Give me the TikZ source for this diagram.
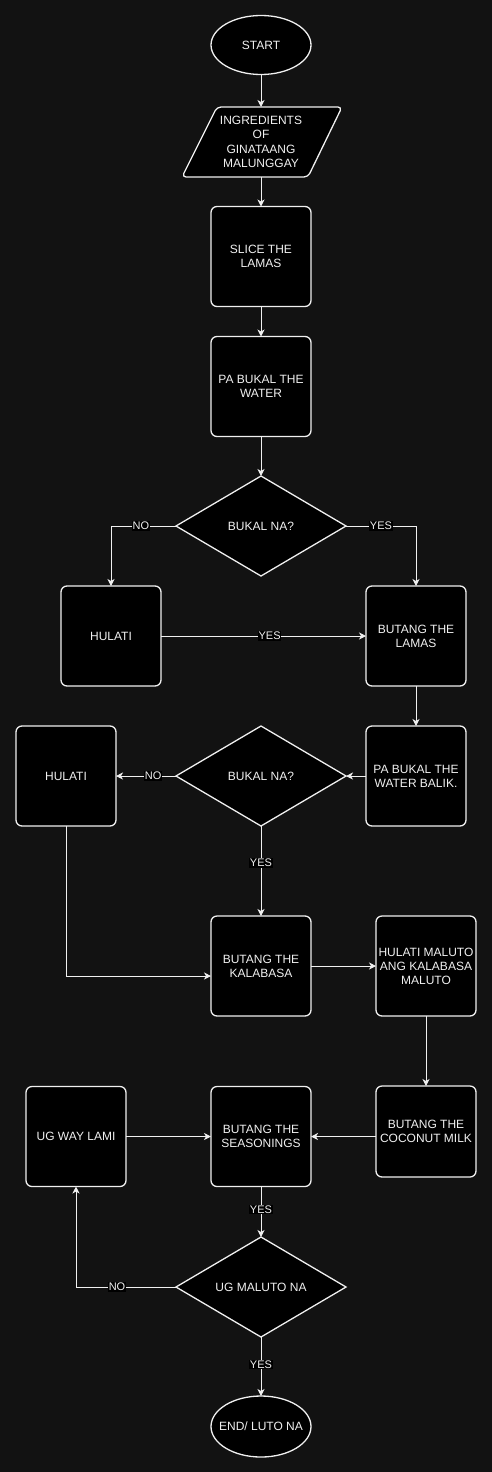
\documentclass[tikz,border=0pt]{standalone}
\usepackage{fontspec}
\setmainfont{Liberation Sans}
\usetikzlibrary{shapes.geometric,arrows.meta,calc}
\definecolor{bgc}{RGB}{18,18,18}
\definecolor{fg}{RGB}{240,240,240}
\tikzset{
  box/.style={draw=fg,fill=black,line width=1.3pt,rounded corners=6pt,minimum width=100pt,minimum height=100pt,inner sep=0pt,outer sep=0pt,text=fg,align=center,font=\fontsize{12}{14}\selectfont},
  oval/.style={ellipse,draw=fg,fill=black,line width=1.3pt,minimum width=100pt,minimum height=59pt,inner sep=0pt,outer sep=0pt,text=fg,align=center,font=\fontsize{12}{14}\selectfont},
  decision/.style={diamond,draw=fg,fill=black,line width=1.3pt,minimum width=170pt,minimum height=100pt,inner sep=0pt,outer sep=0pt,text=fg,align=center,font=\fontsize{12}{14}\selectfont},
  conn/.style={draw=fg,line width=0.9pt,-{Stealth[length=7pt,width=7pt,inset=2pt]}},
  lbl/.style={fill=black,text=fg,inner sep=0.8pt,font=\fontsize{11}{12}\selectfont},
}
\begin{document}
\begin{tikzpicture}[x=1pt,y=-1pt]
\path[fill=bgc] (0,0) rectangle (492,1472);
\useasboundingbox (0,0) rectangle (492,1472);
% start
\node[oval] (start) at (261,45) {START};
% parallelogram
\draw[draw=fg,fill=black,line width=1.3pt,rounded corners=4pt] (217,107) -- (342,107) -- (308,177) -- (182,177) -- cycle;
\node[inner sep=0pt,outer sep=0pt,minimum height=70pt,minimum width=100pt,text=fg,align=center,font=\fontsize{12}{14.5}\selectfont] (ingr) at (261,142) {INGREDIENTS\\OF\\GINATAANG\\MALUNGGAY};
\node[box] (slice) at (261,256.5) {SLICE THE\\LAMAS};
\node[box] (water) at (261,386.5) {PA BUKAL THE\\WATER};
\node[decision] (d1) at (261,526) {BUKAL NA?};
\node[box] (hul1) at (111,636) {HULATI};
\node[box] (lamas) at (416,636) {BUTANG THE\\LAMAS};
\node[box] (balik) at (416,776) {PA BUKAL THE\\WATER BALIK.};
\node[decision] (d2) at (261,776) {BUKAL NA?};
\node[box] (hul2) at (66,776) {HULATI};
\node[box] (kal) at (261,966) {BUTANG THE\\KALABASA};
\node[box] (hmal) at (426,966) {HULATI MALUTO\\ANG KALABASA\\MALUTO};
\node[box,minimum height=91pt] (coco) at (426,1131.5) {BUTANG THE\\COCONUT MILK};
\node[box] (seas) at (261,1136.5) {BUTANG THE\\SEASONINGS};
\node[box] (way) at (76,1136.5) {UG WAY LAMI};
\node[decision] (d3) at (261,1287) {UG MALUTO NA};
\node[oval,minimum height=61pt,inner xsep=-15pt] (end) at (261,1426.5) {END/ LUTO NA};
% connectors
\draw[conn] (start.south) -- (start.south |- ingr.north);
\draw[conn] (ingr.south) -- (slice.north);
\draw[conn] (slice) -- (water);
\draw[conn] (water) -- (d1);
\draw[conn] (d1.west) -| node[lbl,pos=0.27] {NO} (hul1.north);
\draw[conn] (d1.east) -| node[lbl,pos=0.25] {YES} (lamas.north);
\draw[conn] (hul1) -- node[lbl,pos=0.53] {YES} (lamas);
\draw[conn] (lamas) -- (balik);
\draw[conn] (balik) -- (d2);
\draw[conn] (d2.west) -- node[lbl,pos=0.38] {NO} (hul2.east);
\draw[conn] (d2.south) -- node[lbl,pos=0.41] {YES} (kal.north);
\draw[conn] (hul2.south) |- ($(kal.west)+(0,10)$);
\draw[conn] (kal) -- (hmal);
\draw[conn] (hmal) -- (coco);
\draw[conn] (seas.east -| coco.west) -- (seas.east);
\draw[conn] (way) -- (seas);
\draw[conn] (seas.south) -- node[lbl,pos=0.46] {YES} (d3.north);
\draw[conn] (d3.west) -| node[lbl,pos=0.295] {NO} (way.south);
\draw[conn] (d3.south) -- node[lbl,pos=0.47] {YES} (end.north);
\end{tikzpicture}
\end{document}
